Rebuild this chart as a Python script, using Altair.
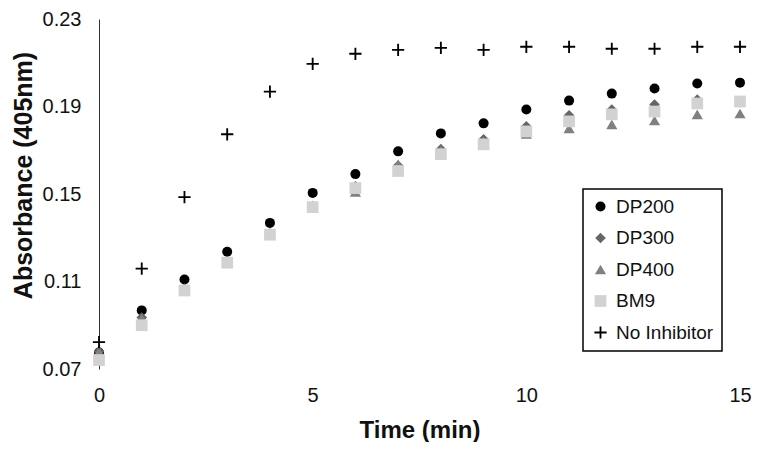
import altair as alt
import pandas as pd

# ---- data ----
time_min = list(range(16))
series_names = ["DP200", "DP300", "DP400", "BM9", "No Inhibitor"]

dp200 = [0.0775, 0.0968, 0.1109, 0.1236, 0.1368, 0.1505, 0.1591, 0.1695,
         0.1777, 0.1823, 0.1886, 0.1927, 0.1959, 0.1982, 0.2005, 0.2009]
dp300 = [0.0780, 0.0935, 0.1068, 0.1195, 0.1320, 0.1445, 0.1535, 0.1630,
         0.1705, 0.1750, 0.1810, 0.1860, 0.1886, 0.1909, 0.1932, 0.1920]
dp400 = [0.0777, 0.0930, 0.1063, 0.1190, 0.1312, 0.1438, 0.1510, 0.1636,
         0.1700, 0.1740, 0.1775, 0.1800, 0.1818, 0.1836, 0.1864, 0.1868]
bm9 = [0.0741, 0.0900, 0.1059, 0.1186, 0.1314, 0.1440, 0.1527, 0.1605,
       0.1682, 0.1727, 0.1786, 0.1832, 0.1864, 0.1877, 0.1914, 0.1923]
no_inhibitor = [0.0823, 0.1159, 0.1486, 0.1773, 0.1968, 0.2095, 0.2141, 0.2159,
                0.2168, 0.2159, 0.2173, 0.2173, 0.2164, 0.2164, 0.2173, 0.2173]

x_ticks = [0, 5, 10, 15]
y_ticks = [0.07, 0.11, 0.15, 0.19, 0.23]

# ---- styling ----
colors = ["#000000", "#666666", "#808080", "#d2d2d2", "#000000"]
plus_path = ("M-1,-0.15L-0.15,-0.15L-0.15,-1L0.15,-1L0.15,-0.15L1,-0.15"
             "L1,0.15L0.15,0.15L0.15,1L-0.15,1L-0.15,0.15L-1,0.15Z")
shapes = ["circle", "diamond", "triangle-up", "square", plus_path]
sizes = [100, 150, 150, 100, 196]

values = [dp200, dp300, dp400, bm9, no_inhibitor]
rows = []
for name, vals in zip(series_names, values):
    for t, v in zip(time_min, vals):
        rows.append({"series": name, "time": t, "absorbance": v})
df = pd.DataFrame(rows)

legend = alt.Legend(
    title=None, orient="none", legendX=484, legendY=170,
    strokeColor="#000000", fillColor="#ffffff", padding=8,
    labelFontSize=19, labelFont="Liberation Sans", labelColor="#111111",
    rowPadding=11.5, labelOffset=6,
)

chart = alt.Chart(df).mark_point(filled=True, opacity=1).encode(
    x=alt.X("time:Q",
            scale=alt.Scale(domain=[0, 15], nice=False, zero=False),
            axis=alt.Axis(values=x_ticks, title="Time (min)", grid=False,
                          domain=False, ticks=False, tickSize=0,
                          labelFlush=False,
                          labelPadding=16, labelFontSize=20,
                          titleFontSize=24, titleFontWeight="bold",
                          titleBaseline="middle", titleY=61)),
    y=alt.Y("absorbance:Q",
            scale=alt.Scale(domain=[0.07, 0.23], nice=False, zero=False),
            axis=alt.Axis(values=y_ticks, format=".2f",
                          title="Absorbance (405nm)", grid=False,
                          domain=True, domainColor="#333333", domainWidth=1,
                          ticks=False, tickSize=0, labelPadding=18,
                          labelFlush=False,
                          labelFontSize=20, titleFontSize=25,
                          titleFontWeight="bold", titleBaseline="middle",
                          titleX=-76, titleY=156)),
    color=alt.Color("series:N", scale=alt.Scale(domain=series_names, range=colors),
                    legend=legend),
    shape=alt.Shape("series:N", scale=alt.Scale(domain=series_names, range=shapes),
                    legend=legend),
    size=alt.Size("series:N", scale=alt.Scale(domain=series_names, range=sizes),
                  legend=legend),
).properties(
    width=641, height=350,
    autosize=alt.AutoSizeParams(type="none"),
    padding={"left": 91, "top": 11, "right": 14, "bottom": 73},
    background="#ffffff",
).configure_view(
    stroke=None
).configure_axis(
    labelFont="Liberation Sans", titleFont="Liberation Sans",
    labelColor="#111111", titleColor="#111111",
).configure_legend(
    strokeWidth=1.5
)

chart.save("out.html", embed_options={"renderer": "svg", "actions": False})
